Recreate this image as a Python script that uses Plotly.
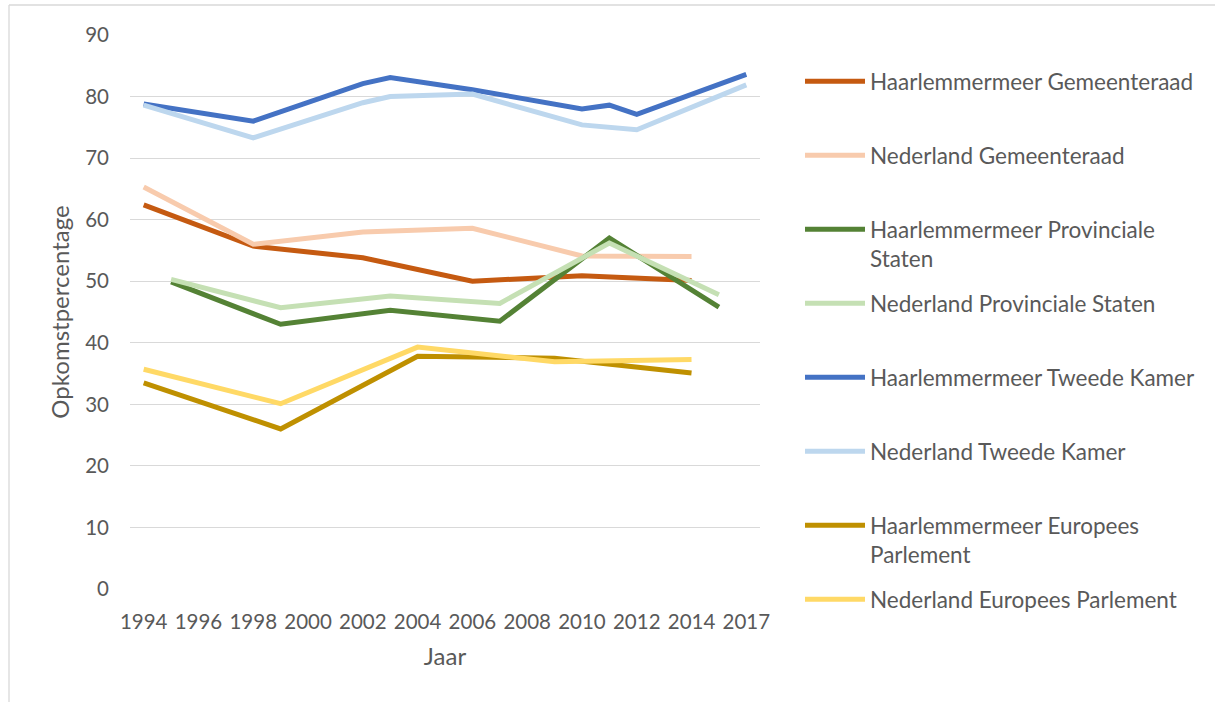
import plotly.graph_objects as go

# Category axis (Excel style): 1994..2015, 2017
years = [str(y) for y in range(1994, 2016)] + ["2017"]
tick_labels = ["1994", "1996", "1998", "2000", "2002", "2004", "2006", "2008",
               "2010", "2012", "2014", "2017"]

series_names = [
    "Haarlemmermeer Gemeenteraad",
    "Nederland Gemeenteraad",
    "Haarlemmermeer Provinciale<br>Staten",
    "Nederland Provinciale Staten",
    "Haarlemmermeer Tweede Kamer",
    "Nederland Tweede Kamer",
    "Haarlemmermeer Europees<br>Parlement",
    "Nederland Europees Parlement",
]

# values per series: {year: value}
haarlemmermeer_gemeenteraad = {"1994": 62.4, "1998": 55.7, "2002": 53.8, "2006": 50.0,
                               "2010": 50.9, "2014": 50.1}
nederland_gemeenteraad = {"1994": 65.3, "1998": 56.0, "2002": 58.0, "2006": 58.6,
                          "2010": 54.1, "2014": 54.0}
haarlemmermeer_provinciale = {"1995": 49.9, "1999": 43.0, "2003": 45.3, "2007": 43.5,
                              "2011": 57.0, "2015": 45.8}
nederland_provinciale = {"1995": 50.3, "1999": 45.7, "2003": 47.6, "2007": 46.4,
                         "2011": 56.2, "2015": 47.8}
haarlemmermeer_tweede_kamer = {"1994": 78.8, "1998": 76.0, "2002": 82.1, "2003": 83.1,
                               "2006": 81.1, "2010": 78.0, "2011": 78.6, "2012": 77.1,
                               "2017": 83.6}
nederland_tweede_kamer = {"1994": 78.6, "1998": 73.3, "2002": 79.0, "2003": 80.0,
                          "2006": 80.4, "2010": 75.4, "2012": 74.6, "2017": 81.9}
haarlemmermeer_europees = {"1994": 33.5, "1999": 26.0, "2004": 37.8, "2009": 37.5,
                           "2014": 35.1}
nederland_europees = {"1994": 35.7, "1999": 30.1, "2004": 39.3, "2009": 36.9,
                      "2014": 37.3}

series_data = [haarlemmermeer_gemeenteraad, nederland_gemeenteraad,
               haarlemmermeer_provinciale, nederland_provinciale,
               haarlemmermeer_tweede_kamer, nederland_tweede_kamer,
               haarlemmermeer_europees, nederland_europees]
colors = ["#C55A11", "#F8CBAD", "#548235", "#C5E0B4",
          "#4472C4", "#BDD7EE", "#BF9000", "#FFD966"]

W, H = 1215, 702
L, R, T, B = 130, 760, 35, 589  # plot area in px
FONT = "Lato"
TXT = "#595959"

fig = go.Figure()
legend_line_y = [82, 156, 230, 304, 378, 452, 526, 600]
for i, (name, d, c) in enumerate(zip(series_names, series_data, colors)):
    xs = [y for y in years if y in d]
    ys = [d[y] for y in xs]
    lg = "legend" if i == 0 else f"legend{i+1}"
    fig.add_trace(go.Scatter(x=xs, y=ys, mode="lines", name=name,
                             line=dict(color=c, width=5),
                             legend=lg, connectgaps=True,
                             hoverinfo="name+x+y"))

def px2py(py):
    return 1 - (py - T) / (B - T)

def px2px(px):
    return (px - L) / (R - L)

legends = {}
for i, ly in enumerate(legend_line_y):
    key = "legend" if i == 0 else f"legend{i+1}"
    legends[key] = dict(
        x=px2px(800), xanchor="left",
        y=px2py(ly - 22), yanchor="top",
        valign="top", itemwidth=60,
        bgcolor="rgba(0,0,0,0)",
        font=dict(family=FONT, size=22.5, color=TXT),
        itemclick=False, itemdoubleclick=False,
    )

fig.update_layout(
    width=W, height=H,
    margin=dict(l=L, r=W - R, t=T, b=H - B, pad=0),
    paper_bgcolor="white", plot_bgcolor="white",
    font=dict(family=FONT, size=20, color=TXT),
    showlegend=True,
    xaxis=dict(type="category", categoryorder="array", categoryarray=years,
               range=[-0.5, len(years) - 0.5],
               tickmode="array", tickvals=tick_labels, ticktext=tick_labels,
               showgrid=False, showline=False, zeroline=False, ticks="",
               tickangle=0, ticklabelstandoff=18,
               tickfont=dict(family=FONT, size=20.5, color=TXT),
               title=dict(text="Jaar", font=dict(family=FONT, size=24, color=TXT),
                          standoff=16),
               fixedrange=True),
    yaxis=dict(range=[0, 90], tickmode="linear", tick0=0, dtick=10,
               showgrid=True, gridcolor="#D9D9D9", gridwidth=1.3,
               zeroline=False, showline=False, ticks="",
               ticklabelstandoff=20,
               tickfont=dict(family=FONT, size=20.5, color=TXT),
               title=dict(text="Opkomstpercentage",
                          font=dict(family=FONT, size=24, color=TXT), standoff=8),
               fixedrange=True),
    shapes=[dict(type="line", xref="paper", yref="paper",
                 x0=px2px(9), x1=px2px(W + 5), y0=px2py(5), y1=px2py(5),
                 line=dict(color="#D9D9D9", width=1.3)),
            dict(type="line", xref="paper", yref="paper",
                 x0=px2px(9), x1=px2px(9), y0=px2py(5), y1=px2py(H + 5),
                 line=dict(color="#D9D9D9", width=1.3))],
    **legends,
)

fig.write_html("out.html", config={"displayModeBar": False},
               post_script="document.body.style.margin='0';document.body.style.overflow='hidden';")
